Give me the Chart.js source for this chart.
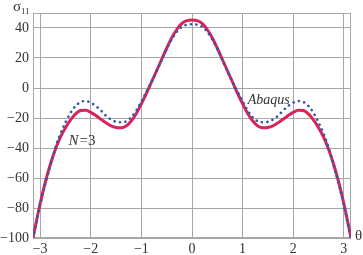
<!DOCTYPE html>
<html>
<head>
<meta charset="utf-8">
<script src="https://cdn.jsdelivr.net/npm/chart.js@4"></script>
<style>
  html, body { margin: 0; padding: 0; background: #fff; }
  #wrap { width: 363px; height: 255px; position: relative; }
</style>
</head>
<body>
<div id="wrap"><canvas id="stressChart"></canvas></div>
<script>
// theta values (rad) shared by both curves
var thetaValues = [-3.1416, -3.1, -3.0, -2.9, -2.8, -2.7, -2.6, -2.5, -2.4, -2.3, -2.2, -2.1, -2.0, -1.9, -1.8, -1.7, -1.6, -1.5, -1.4, -1.3, -1.2, -1.1, -1.0, -0.9, -0.8, -0.7, -0.6, -0.5, -0.4, -0.3, -0.2, -0.1,
    0, 0.1, 0.2, 0.3, 0.4, 0.5, 0.6, 0.7, 0.8, 0.9, 1.0, 1.1, 1.2, 1.3, 1.4, 1.5, 1.6, 1.7, 1.8, 1.9, 2.0, 2.1, 2.2, 2.3, 2.4, 2.5, 2.6, 2.7, 2.8, 2.9, 3.0, 3.1, 3.1416];

// N = 3 solution (solid red)
var seriesN3 = [-100, -93, -77, -63, -51, -41, -32.8, -26.5, -21.3, -17.3, -15, -14.9, -16.2, -18.3, -20.8, -23.2, -25.2, -26.3, -26.5, -25.3, -22, -17, -10.5, -3.5, 4, 11.5, 19, 26.5, 33.5, 39, 43, 44.9,
    45.3, 44.9, 43, 39, 33.5, 26.5, 19, 11.5, 4, -3.5, -10.5, -17, -22, -25.3, -26.5, -26.3, -25.2, -23.2, -20.8, -18.3, -16.2, -14.9, -15, -17.3, -21.3, -26.5, -32.8, -41, -51, -63, -77, -93, -100];

// Abaqus (dotted blue)
var seriesAbaqus = [-100, -94, -78, -64, -52, -40, -30.5, -23, -16.5, -12, -9.3, -8.7, -9.8, -12, -15, -18.5, -21, -22.5, -22.8, -22.2, -19.5, -15, -9, -2.5, 4, 11, 18.5, 26, 32.5, 37.5, 40.8, 42.2,
    42.5, 42.2, 40.8, 37.5, 32.5, 26, 18.5, 11, 4, -2.5, -9, -15, -19.5, -22.2, -22.8, -22.5, -21, -18.5, -15, -12, -9.8, -8.7, -9.3, -12, -16.5, -23, -30.5, -40, -52, -64, -78, -94, -100];

var xTicks = [-3, -2, -1, 0, 1, 2, 3];
var yTicks = [-100, -80, -60, -40, -20, 0, 20, 40];

var gridColor = '#a6a6a6';
var textColor = '#333333';
var serif = '"Liberation Serif", "DejaVu Serif", serif';

function toPoints(values) {
    return thetaValues.map(function (t, i) { return { x: t, y: values[i] }; });
}

function fmtTick(value) {
    return String(value).replace('-', '\u2212');
}

var decorPlugin = {
    id: 'decor',
    beforeDatasetsDraw: function (chart) {
        var ctx = chart.ctx, a = chart.chartArea;
        ctx.save();
        ctx.strokeStyle = gridColor;
        ctx.lineWidth = 1;
        ctx.strokeRect(a.left + 0.5, a.top + 0.5, a.right - a.left - 1, a.bottom - a.top - 1);
        ctx.restore();
    },
    afterDraw: function (chart) {
        var ctx = chart.ctx, a = chart.chartArea;
        var xs = chart.scales.x, ys = chart.scales.y;
        ctx.save();
        ctx.fillStyle = textColor;
        ctx.textBaseline = 'alphabetic';

        // axis titles
        ctx.font = '15px ' + serif;
        ctx.textAlign = 'left';
        ctx.fillText('\u03c3', 13, 11);
        ctx.font = '9px ' + serif;
        ctx.fillText('11', 21, 14);
        ctx.font = '15px ' + serif;
        ctx.fillText('\u03b8', a.right + 4, a.bottom + 2);

        // curve labels
        ctx.font = 'italic 14px ' + serif;
        ctx.fillText('Abaqus', xs.getPixelForValue(1.1), ys.getPixelForValue(-10.5));
        var nx = xs.getPixelForValue(-2.44);
        var ny = ys.getPixelForValue(-38);
        ctx.font = 'italic 15px ' + serif;
        ctx.fillText('N', nx, ny);
        var nw = ctx.measureText('N').width;
        ctx.font = '15px ' + serif;
        ctx.fillText('=3', nx + nw + 1, ny);
        ctx.restore();
    }
};

new Chart(document.getElementById('stressChart').getContext('2d'), {
    type: 'line',
    data: {
        datasets: [
            {
                label: 'Abaqus',
                data: toPoints(seriesAbaqus),
                borderColor: '#2c5aa8',
                borderWidth: 2.6,
                borderDash: [0.1, 5.4],
                borderCapStyle: 'round',
                pointRadius: 0,
                cubicInterpolationMode: 'monotone',
                fill: false
            },
            {
                label: 'N = 3',
                data: toPoints(seriesN3),
                borderColor: '#d8245a',
                borderWidth: 3,
                pointRadius: 0,
                cubicInterpolationMode: 'monotone',
                fill: false
            }
        ]
    },
    options: {
        responsive: true,
        maintainAspectRatio: false,
        animation: false,
        layout: { padding: { top: 13, right: 12, left: 0, bottom: 0 } },
        plugins: {
            legend: { display: false },
            tooltip: { enabled: false }
        },
        scales: {
            x: {
                type: 'linear',
                min: -Math.PI,
                max: Math.PI,
                afterBuildTicks: function (scale) {
                    scale.ticks = xTicks.map(function (v) { return { value: v }; });
                },
                afterFit: function (scale) { scale.height = 17; },
                grid: { color: gridColor, lineWidth: 1, drawTicks: false },
                border: { display: false },
                ticks: {
                    color: textColor,
                    padding: 3,
                    maxRotation: 0,
                    font: { family: serif, size: 14 },
                    callback: fmtTick
                }
            },
            y: {
                min: -100,
                max: 50,
                afterBuildTicks: function (scale) {
                    scale.ticks = yTicks.map(function (v) { return { value: v }; });
                },
                afterFit: function (scale) { scale.width = 33; },
                grid: { color: gridColor, lineWidth: 1, drawTicks: false },
                border: { display: false },
                ticks: {
                    color: textColor,
                    padding: 4,
                    font: { family: serif, size: 14 },
                    callback: fmtTick
                }
            }
        }
    },
    plugins: [decorPlugin]
});
</script>
</body>
</html>
